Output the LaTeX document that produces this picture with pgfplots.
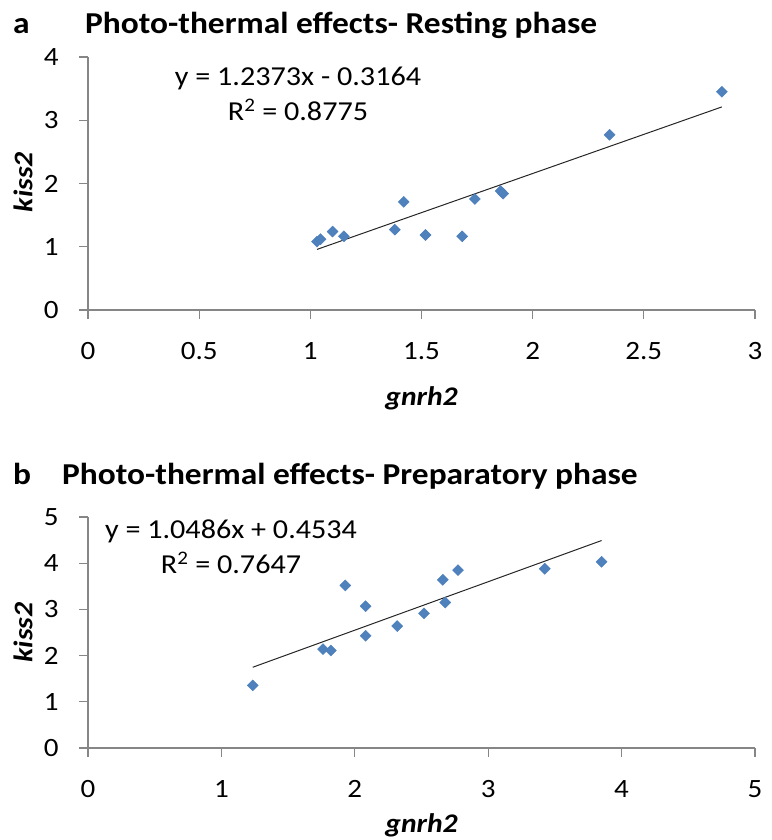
\documentclass[border=0pt]{standalone}
\usepackage{fontspec}
\setmainfont{Carlito}[FakeStretch=1.1]
\usepackage{pgfplots}
\pgfplotsset{compat=1.18}
\definecolor{mk}{HTML}{4F81BD}
\definecolor{mkd}{HTML}{4A7EBB}
\definecolor{axc}{HTML}{868686}
\pgfplotsset{
  excel/.style={
    scale only axis,
    axis lines*=left,
    axis line style={axc, line width=1.1bp},
    tick style={axc, line width=1.1bp},
    tick align=outside,
    major tick length=9bp,
    xmin=0, ymin=0,
    /pgf/number format/assume math mode=true,
    tick label style={font=\fontsize{26.5}{28}\selectfont, black},
    xticklabel style={yshift=-20bp},
    yticklabel style={xshift=-17bp},
    xlabel style={font=\fontsize{27}{29}\selectfont\bfseries\itshape, anchor=center},
    ylabel style={font=\fontsize{27}{29}\selectfont\bfseries\itshape, anchor=center, rotate=0},
    xlabel={gnrh2}, ylabel={kiss2},
    clip=false,
  },
  pts/.style={only marks, mark=square*, mark size=3.9bp, mark options={rotate=45, fill=mk, draw=mkd}},
  trend/.style={black!85, line width=1bp},
}
\begin{document}
\begin{tikzpicture}
\useasboundingbox (0,0) rectangle (772bp,-840bp);
% ---------- panel a ----------
\begin{axis}[excel, at={(88bp,-310bp)}, anchor=south west,
  width=667bp, height=253bp, xmax=3, ymax=4,
  xtick={0,0.5,1,1.5,2,2.5,3}, ytick={0,1,2,3,4},
  xlabel style={at={(axis description cs:0.5,-0.348)}},
  ylabel style={at={(axis description cs:-0.0975,0.505)}}]
\addplot[pts] coordinates {
 (1.030,1.080) (1.046,1.120) (1.100,1.240) (1.151,1.165) (1.380,1.270)
 (1.420,1.710) (1.518,1.186) (1.683,1.165) (1.740,1.755) (1.856,1.880)
 (1.867,1.840) (2.346,2.770) (2.851,3.450)};
\addplot[trend] coordinates {(1.030,0.958) (2.851,3.211)};
\end{axis}
% ---------- panel b ----------
\begin{axis}[excel, at={(88bp,-748bp)}, anchor=south west,
  width=667bp, height=231bp, xmax=5, ymax=5,
  xtick={0,1,2,3,4,5}, ytick={0,1,2,3,4,5},
  xlabel style={at={(axis description cs:0.5,-0.336)}},
  ylabel style={at={(axis description cs:-0.0975,0.5)}}]
\addplot[pts] coordinates {
 (1.235,1.356) (1.762,2.140) (1.821,2.110) (1.929,3.520) (2.081,3.070)
 (2.081,2.430) (2.318,2.640) (2.519,2.915) (2.660,3.640) (2.678,3.150)
 (2.774,3.850) (3.424,3.880) (3.850,4.030)};
\addplot[trend] coordinates {(1.235,1.748) (3.850,4.491)};
\end{axis}
% titles and equations
\node[anchor=base west, inner sep=0pt, font=\fontsize{30.5}{32}\selectfont\bfseries] at (13bp,-33bp) {a};
\node[anchor=base west, inner sep=0pt, font=\fontsize{30.5}{32}\selectfont\bfseries] at (85bp,-33bp) {Photo-thermal effects- Resting phase};
\node[anchor=base west, inner sep=0pt, font=\fontsize{30.5}{32}\selectfont\bfseries] at (13bp,-484bp) {b};
\node[anchor=base west, inner sep=0pt, font=\fontsize{30.5}{32}\selectfont\bfseries] at (62bp,-484bp) {Photo-thermal effects- Preparatory phase};
\node[anchor=base, inner sep=0pt, font=\fontsize{27.5}{29}\selectfont] at (298bp,-85bp) {y = 1.2373x - 0.3164};
\node[anchor=base, inner sep=0pt, font=\fontsize{27.5}{29}\selectfont] at (298bp,-120bp) {R\textsuperscript{2} = 0.8775};
\node[anchor=base, inner sep=0pt, font=\fontsize{27.5}{29}\selectfont] at (231bp,-538bp) {y = 1.0486x + 0.4534};
\node[anchor=base, inner sep=0pt, font=\fontsize{27.5}{29}\selectfont] at (231bp,-573bp) {R\textsuperscript{2} = 0.7647};
\end{tikzpicture}
\end{document}
